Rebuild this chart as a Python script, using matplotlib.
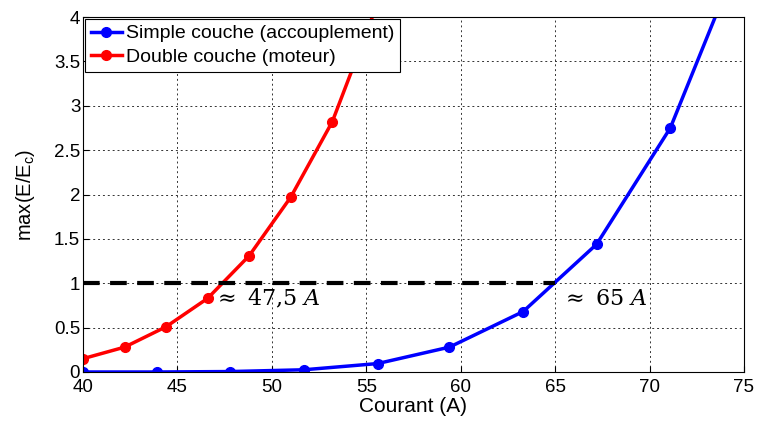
import numpy as np
import matplotlib.pyplot as plt

# data
courant_simple = [40.0, 43.9, 47.8, 51.7, 55.6, 59.4, 63.3, 67.2, 71.1, 75.0]
ratio_simple = [0.0, 0.0, 0.005, 0.025, 0.095, 0.28, 0.68, 1.44, 2.75, 4.8]

courant_double = [40.0, 42.2, 44.4, 46.6, 48.8, 51.0, 53.2, 55.5]
ratio_double = [0.15, 0.28, 0.51, 0.83, 1.31, 1.97, 2.82, 4.1]

seuil = 1.0
seuil_x = [40, 65]

plt.rcParams['font.family'] = ['Liberation Sans', 'DejaVu Sans']
plt.rcParams['mathtext.fontset'] = 'dejavuserif'

fig = plt.figure(figsize=(7.58, 4.21), dpi=100)
ax = fig.add_axes([0.1095, 0.1164, 0.872, 0.8432])

ax.plot(courant_simple, ratio_simple, '-o', color='#0000ff', lw=2.5, ms=7,
        label='Simple couche (accouplement)')
ax.plot(courant_double, ratio_double, '-o', color='#ff0000', lw=2.5, ms=7,
        label='Double couche (moteur)')
ax.plot(seuil_x, [seuil, seuil], '--', color='black', lw=3, dashes=(4, 2.5))

ax.text(46.9, 0.82, r'$\approx$ 47,5 $A$', fontsize=16, va='center', ha='left',
        family='DejaVu Serif')
ax.text(65.3, 0.82, r'$\approx$ 65 $A$', fontsize=16, va='center', ha='left',
        family='DejaVu Serif')

ax.set_xlim(40, 75)
ax.set_ylim(0, 4)
ax.set_xticks(np.arange(40, 76, 5))
ax.set_yticks(np.arange(0, 4.01, 0.5))
ax.set_yticklabels(['0', '0.5', '1', '1.5', '2', '2.5', '3', '3.5', '4'])
ax.tick_params(direction='in', labelsize=13.5, length=4)
ax.tick_params(axis='x', pad=5)
ax.tick_params(axis='y', pad=2)
ax.grid(True, linestyle=(0, (2, 3)), color='#333333', lw=0.7)

ax.set_xlabel('Courant (A)', fontsize=15, labelpad=1)
ax.set_ylabel(r'max(E/E$_\mathregular{c}$)', fontsize=14.5, labelpad=12)

leg = ax.legend(loc='upper left', fontsize=14, frameon=True, fancybox=False,
                borderaxespad=0.1, handlelength=1.6, handletextpad=0.2,
                borderpad=0.3, labelspacing=0.3)
leg.get_frame().set_edgecolor('black')
leg.get_frame().set_linewidth(0.8)
leg.get_frame().set_alpha(1)

fig.savefig('out.png', dpi=100)
